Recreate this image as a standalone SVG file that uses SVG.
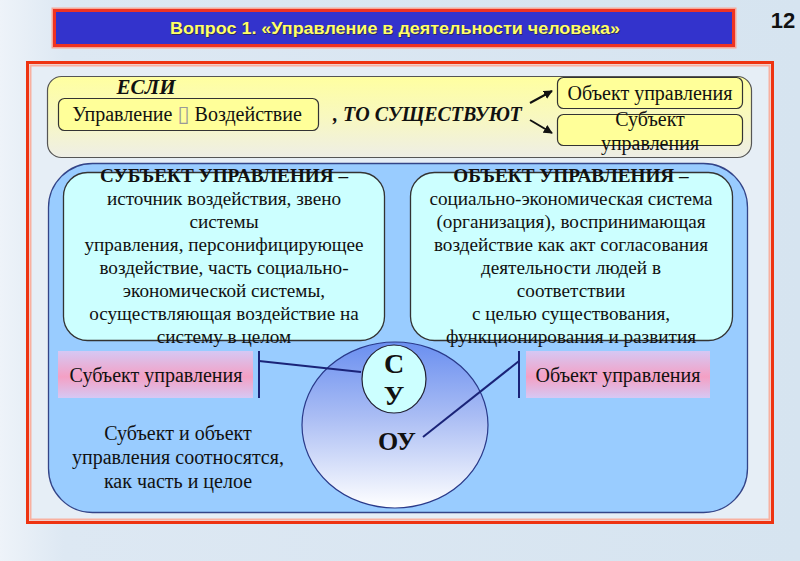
<svg xmlns="http://www.w3.org/2000/svg" width="800" height="561" viewBox="0 0 800 561">
<defs>
<linearGradient id="bg" x1="0" y1="0" x2="1" y2="0">
<stop offset="0" stop-color="#eef3f9"/><stop offset="0.08" stop-color="#dde8f3"/><stop offset="1" stop-color="#d6e4f0"/>
</linearGradient>
<linearGradient id="yel" x1="0" y1="0" x2="0" y2="1">
<stop offset="0" stop-color="#ffffa0"/><stop offset="0.5" stop-color="#f8f8c0"/><stop offset="1" stop-color="#eeeee6"/>
</linearGradient>
<linearGradient id="pink" x1="0" y1="0" x2="0" y2="1">
<stop offset="0" stop-color="#d6c8f4"/><stop offset="0.55" stop-color="#f4a0c4"/><stop offset="1" stop-color="#d6c8f4"/>
</linearGradient>
<linearGradient id="ell" x1="0" y1="0" x2="0" y2="1">
<stop offset="0" stop-color="#6a8ff0"/><stop offset="0.45" stop-color="#aabdf4"/><stop offset="1" stop-color="#ffffff"/>
</linearGradient>
<marker id="ah" viewBox="0 0 10 10" refX="9" refY="5" markerWidth="4.5" markerHeight="4.5" orient="auto">
<path d="M0,0 L10,5 L0,10 z" fill="#111"/>
</marker>
<style>
.serif{font-family:"Liberation Serif","Times New Roman",serif;}
.sans{font-family:"Liberation Sans",Arial,sans-serif;}
.t20{font-size:20px;fill:#111;text-anchor:middle;}
.t19{font-size:19.2px;fill:#111;text-anchor:middle;}
.ybox{fill:#ffff99;stroke:#333;stroke-width:1.2;}
.cyan{fill:#ccffff;stroke:#333;stroke-width:1.3;}
.conn{stroke:#1a2378;stroke-width:2;fill:none;}
</style>
</defs>
<rect x="0" y="0" width="800" height="561" fill="url(#bg)"/>

<g id="title">
<rect x="52.5" y="8.5" width="683" height="39" fill="none" stroke="#f6a898" stroke-width="2"/>
<rect x="54.5" y="10.5" width="679" height="35" fill="#3333cc" stroke="#ee3322" stroke-width="3"/>
<text x="396" y="35" class="sans" font-size="17" font-weight="bold" text-anchor="middle" fill="#222" opacity="0.6" textLength="450" lengthAdjust="spacingAndGlyphs">Вопрос 1. «Управление в деятельности человека»</text>
<text x="395" y="34" class="sans" font-size="17" font-weight="bold" text-anchor="middle" fill="#ffff66" textLength="450" lengthAdjust="spacingAndGlyphs">Вопрос 1. «Управление в деятельности человека»</text>
</g>
<g id="page-number">
<text x="783" y="28" class="sans" font-size="22" font-weight="bold" text-anchor="middle" fill="#111">12</text>
</g>

<g id="frame">
<rect x="27.5" y="62.5" width="745" height="460" fill="#e6eef6" stroke="#ee3311" stroke-width="3"/>
<rect x="30.5" y="65.5" width="739" height="454" fill="none" stroke="#f8b0a0" stroke-width="2"/>
</g>

<g id="if-panel">
<rect x="47.5" y="76.5" width="704" height="81" rx="14" fill="url(#yel)" stroke="#555" stroke-width="1.2"/>
<text x="146" y="94" class="serif" font-size="21" font-weight="bold" font-style="italic" text-anchor="middle" fill="#111">ЕСЛИ</text>
</g>
<g id="node-upr-vozd">
<rect x="58.5" y="98.5" width="260" height="32" rx="6" class="ybox"/>
<text x="187" y="121" class="serif t20">Управление <tspan fill="#999" font-family="DejaVu Sans" font-size="22">▯</tspan> Воздействие</text>
</g>
<g id="label-to">
<text x="333" y="121" class="serif" font-size="20" font-weight="bold" font-style="italic" fill="#111">, ТО СУЩЕСТВУЮТ</text>
</g>
<g id="node-obj-top">
<rect x="557.5" y="77.5" width="185" height="31" rx="6" class="ybox"/>
<text x="650" y="100" class="serif t20">Объект управления</text>
</g>
<g id="node-subj-top">
<rect x="557.5" y="114.5" width="185" height="31" rx="6" class="ybox"/>
<text x="650" y="126" class="serif t20">Субъект</text>
<text x="650" y="150" class="serif t20">управления</text>
</g>

<g id="main-panel">
<rect x="48.5" y="163.5" width="699" height="349" rx="44" fill="#99ccff" stroke="#334488" stroke-width="1.3"/>
</g>

<g id="node-subj-def">
<rect x="63.5" y="172.5" width="321" height="168" rx="24" class="cyan"/>
<text class="serif t19"><tspan x="224" y="182" font-weight="bold">СУБЪЕКТ УПРАВЛЕНИЯ –</tspan><tspan x="224" y="205">источник воздействия, звено</tspan><tspan x="224" y="228">системы</tspan><tspan x="224" y="251">управления, персонифицирующее</tspan><tspan x="224" y="274">воздействие, часть социально-</tspan><tspan x="224" y="297">экономической системы,</tspan><tspan x="224" y="320">осуществляющая воздействие на</tspan><tspan x="224" y="343">систему в целом</tspan></text>
</g>
<g id="node-obj-def">
<rect x="410.5" y="172.5" width="322" height="168" rx="24" class="cyan"/>
<text class="serif t19"><tspan x="571" y="182" font-weight="bold">ОБЪЕКТ УПРАВЛЕНИЯ –</tspan><tspan x="571" y="205">социально-экономическая система</tspan><tspan x="571" y="228">(организация), воспринимающая</tspan><tspan x="571" y="251">воздействие как акт согласования</tspan><tspan x="571" y="274">деятельности людей в</tspan><tspan x="571" y="297">соответствии</tspan><tspan x="571" y="320">с целью существования,</tspan><tspan x="571" y="343">функционирования и развития</tspan></text>
</g>

<g id="node-ou">
<ellipse cx="395" cy="425" rx="93" ry="83" fill="url(#ell)" stroke="#2a3a8a" stroke-width="1.2"/>
<text x="397" y="450" class="serif" font-size="26" font-weight="bold" text-anchor="middle" fill="#111">ОУ</text>
</g>
<g id="node-su">
<ellipse cx="394" cy="379" rx="32" ry="34" fill="#ccffff" stroke="#223" stroke-width="1.2"/>
<text x="394" y="373" class="serif" font-size="28" font-weight="bold" text-anchor="middle" fill="#111">С</text>
<text x="394" y="405" class="serif" font-size="28" font-weight="bold" text-anchor="middle" fill="#111">У</text>
</g>

<g id="node-subj-label">
<rect x="58" y="351" width="195" height="47" fill="url(#pink)"/>
<text x="156" y="382" class="serif t20">Субъект управления</text>
</g>
<g id="node-obj-label">
<rect x="526" y="351" width="184" height="47" fill="url(#pink)"/>
<text x="618" y="382" class="serif t20">Объект управления</text>
</g>

<g id="note">
<text class="serif t20"><tspan x="178" y="440">Субъект и объект</tspan><tspan x="178" y="464">управления соотносятся,</tspan><tspan x="178" y="488">как часть и целое</tspan></text>
</g>

<g id="connectors">
<line x1="530" y1="103" x2="552" y2="91" stroke="#111" stroke-width="2" marker-end="url(#ah)"/>
<line x1="530" y1="120" x2="552" y2="133" stroke="#111" stroke-width="2" marker-end="url(#ah)"/>
<line x1="259" y1="351" x2="259" y2="398" class="conn"/>
<line x1="259" y1="361" x2="361" y2="372" class="conn"/>
<line x1="519" y1="351" x2="519" y2="398" class="conn"/>
<line x1="519" y1="361" x2="423" y2="437" class="conn"/>
</g>
</svg>
